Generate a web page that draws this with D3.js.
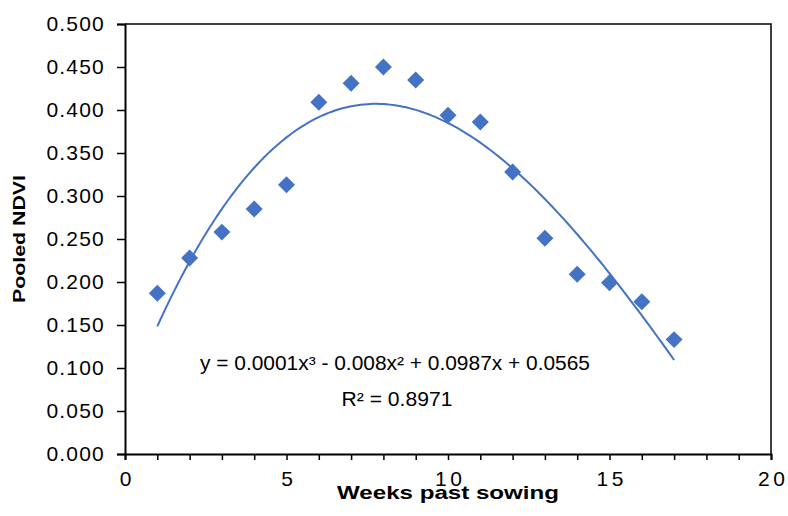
<!DOCTYPE html>
<html>
<head>
<meta charset="utf-8">
<script src="https://cdn.jsdelivr.net/npm/d3@7"></script>
<style>
  body { margin: 0; background: #fff; }
  svg text { font-family: "Liberation Sans", Arial, sans-serif; fill: #000; }
</style>
</head>
<body>
<div id="chart"></div>
<script>
// values
const weeks = [1, 2, 3, 4, 5, 6, 7, 8, 9, 10, 11, 12, 13, 14, 15, 16, 17];
const ndvi = [0.187, 0.228, 0.258, 0.285, 0.313, 0.409, 0.431, 0.450, 0.435,
              0.394, 0.386, 0.328, 0.251, 0.209, 0.199, 0.177, 0.133];
const yTicks = [0, 0.05, 0.1, 0.15, 0.2, 0.25, 0.3, 0.35, 0.4, 0.45, 0.5];
const xLabels = [0, 5, 10, 15, 20];
const xMinor = d3.range(0, 21);
const equationText = "y = 0.0001x\u00B3  - 0.008x\u00B2  + 0.0987x  + 0.0565";
const r2Text = "R\u00B2 = 0.8971";

const margin = { top: 24, right: 17, bottom: 62, left: 125 };
const width = 788 - margin.left - margin.right;
const height = 516 - margin.top - margin.bottom;
const blue = "#4472C4";

const svg = d3.select("#chart")
  .append("svg")
  .attr("width", 788)
  .attr("height", 516)
  .append("g")
  .attr("transform", `translate(${margin.left},${margin.top})`);

const x = d3.scaleLinear().domain([0, 20]).range([0, width]);
const y = d3.scaleLinear().domain([0, 0.5]).range([height, 0]);

// plot frame (top and right)
svg.append("path")
  .attr("d", `M0,0H${width}V${height}`)
  .attr("fill", "none")
  .attr("stroke", "#000")
  .attr("stroke-width", 1.5);

// y axis
const yAxis = svg.append("g")
  .call(d3.axisLeft(y).tickValues(yTicks).tickFormat(d3.format(".3f")).tickSize(8).tickPadding(12));
yAxis.select(".domain").attr("stroke-width", 2);
yAxis.selectAll(".tick line").attr("stroke-width", 1.5);
yAxis.selectAll("text")
  .style("font-size", "21px")
  .style("letter-spacing", "1.2px")
  .attr("fill", "#000");

// x axis: minor ticks every week, labels every 5
const xAxis = svg.append("g")
  .attr("transform", `translate(0,${height})`)
  .call(d3.axisBottom(x).tickValues(xMinor)
    .tickFormat(d => xLabels.includes(d) ? d : "").tickSize(6).tickPadding(11));
xAxis.select(".domain").attr("stroke-width", 2);
xAxis.selectAll(".tick line").attr("stroke-width", 1.5);
xAxis.selectAll("text")
  .style("font-size", "21px")
  .style("letter-spacing", "3.5px")
  .attr("dx", "1.75px")
  .attr("fill", "#000");

// axis titles
svg.append("text")
  .attr("x", width / 2)
  .attr("y", height + 45)
  .attr("text-anchor", "middle")
  .attr("textLength", 222)
  .attr("lengthAdjust", "spacingAndGlyphs")
  .style("font-size", "18px")
  .style("font-weight", "bold")
  .text("Weeks past sowing");

svg.append("text")
  .attr("transform", "rotate(-90)")
  .attr("x", -height / 2)
  .attr("y", -100)
  .attr("text-anchor", "middle")
  .attr("textLength", 128)
  .attr("lengthAdjust", "spacingAndGlyphs")
  .style("font-size", "17px")
  .style("font-weight", "bold")
  .text("Pooled NDVI");

// cubic least-squares trendline through the points
function polyFit(xs, ys, deg) {
  const n = deg + 1;
  const A = d3.range(n).map(i => d3.range(n + 1).map(() => 0));
  xs.forEach((xv, k) => {
    for (let i = 0; i < n; i++) {
      for (let j = 0; j < n; j++) A[i][j] += Math.pow(xv, i + j);
      A[i][n] += ys[k] * Math.pow(xv, i);
    }
  });
  for (let i = 0; i < n; i++) {
    let p = i;
    for (let r = i + 1; r < n; r++) if (Math.abs(A[r][i]) > Math.abs(A[p][i])) p = r;
    [A[i], A[p]] = [A[p], A[i]];
    for (let r = 0; r < n; r++) {
      if (r === i) continue;
      const f = A[r][i] / A[i][i];
      for (let c = i; c <= n; c++) A[r][c] -= f * A[i][c];
    }
  }
  return d3.range(n).map(i => A[i][n] / A[i][i]);
}
const coef = polyFit(weeks, ndvi, 3);
const fitY = xv => coef.reduce((s, c, i) => s + c * Math.pow(xv, i), 0);
const fitXs = d3.range(d3.min(weeks), d3.max(weeks) + 0.001, 0.1);

svg.append("path")
  .datum(fitXs)
  .attr("fill", "none")
  .attr("stroke", blue)
  .attr("stroke-width", 2)
  .attr("d", d3.line().x(d => x(d)).y(d => y(fitY(d))));

// markers
svg.selectAll(".pt")
  .data(weeks.map((w, i) => ({ w, v: ndvi[i] })))
  .enter()
  .append("path")
  .attr("class", "pt")
  .attr("d", d3.symbol().type(d3.symbolSquare).size(144))
  .attr("transform", d => `translate(${x(d.w)},${y(d.v)}) rotate(45)`)
  .attr("fill", blue);

// equation
svg.append("text")
  .attr("x", 270)
  .attr("y", 346)
  .attr("text-anchor", "middle")
  .attr("textLength", 390)
  .attr("lengthAdjust", "spacingAndGlyphs")
  .style("font-size", "19.5px")
  .text(equationText);
svg.append("text")
  .attr("x", 272)
  .attr("y", 382)
  .attr("text-anchor", "middle")
  .attr("textLength", 111)
  .attr("lengthAdjust", "spacingAndGlyphs")
  .style("font-size", "19.5px")
  .text(r2Text);
</script>
</body>
</html>
